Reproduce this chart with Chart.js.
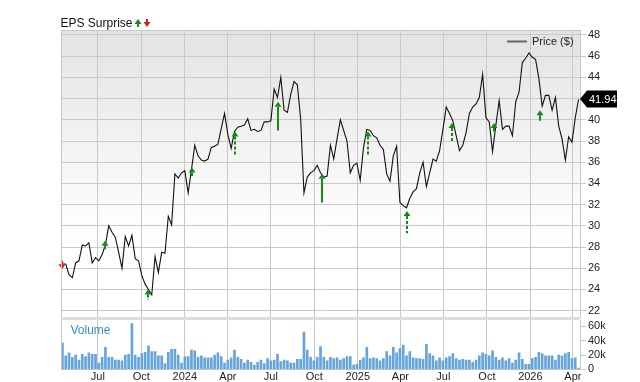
<!DOCTYPE html>
<html lang="en">
<head>
    <meta charset="UTF-8">
    <title>EPS Surprise</title>
    <script src="https://cdn.jsdelivr.net/npm/chart.js"></script>
    <style>
        body { margin: 0; background: #fff; }
        #wrap { position: relative; width: 640px; height: 382px; overflow: hidden; }
        #wrap canvas { position: absolute; left: 0; }
    </style>
</head>
<body>
    <div id="wrap">
        <canvas id="priceChart" width="640" height="320" style="top:0"></canvas>
        <canvas id="volumeChart" width="640" height="62" style="top:320px"></canvas>
    </div>

    <script>
        // weekly closes, first week starts 2023-04-17
        const startDate = '2023-04-17';
        const axisStart = '2023-04-14';
        const axisEnd = '2026-04-16';

        const prices = [
            26.4, 26.4, 25.4, 25.1, 26.5, 26.7, 28.2, 28.1, 28.4, 26.5,
            27.0, 26.7, 27.3, 28.2, 30.0, 29.4, 28.9, 27.5, 26.0, 29.0,
            28.1, 29.1, 26.9, 26.7, 25.3, 24.5, 24.0, 23.5, 27.1, 25.6,
            27.5, 27.4, 30.9, 30.1, 34.9, 34.5, 35.0, 35.2, 33.1, 35.3,
            37.6, 36.6, 36.2, 36.1, 36.3, 37.4, 37.5, 37.7, 39.2, 40.6,
            38.6, 37.3, 38.9, 39.3, 39.4, 39.5, 40.1, 39.0, 39.1, 38.9,
            39.0, 39.8, 39.8, 39.9, 42.9, 42.1, 44.0, 40.9, 40.7, 42.4,
            43.6, 43.3, 40.1, 33.1, 34.6, 35.0, 35.2, 35.7, 35.0, 34.6,
            34.7, 37.6, 36.3, 38.2, 40.0, 39.0, 38.0, 35.0, 35.7, 35.9,
            34.3, 37.4, 39.1, 39.0, 38.5, 38.3, 37.6, 37.2, 34.9, 34.2,
            36.6, 37.5, 32.2, 31.9, 31.7, 32.6, 33.2, 33.5, 35.0, 36.0,
            33.7, 35.0, 36.3, 36.1, 37.1, 39.1, 41.2, 40.6, 39.9, 38.5,
            37.1, 37.6, 38.8, 40.6, 41.2, 41.5, 42.1, 44.3, 40.2, 39.8,
            37.0, 39.5, 41.8, 39.1, 39.4, 39.4, 38.5, 41.7, 42.6, 45.4,
            45.8, 46.3, 45.9, 45.7, 43.9, 41.3, 42.3, 42.3, 40.9, 42.1,
            39.4, 38.2, 36.2, 38.4, 37.9, 40.2, 41.94
        ];

        // weekly volume, thousands
        const volumes = [
            37, 19, 23, 17, 20, 13, 21, 18, 23, 21,
            21, 9, 17, 31, 17, 17, 13, 13, 12, 20,
            21, 64, 20, 17, 22, 24, 33, 25, 25, 19,
            19, 8, 24, 28, 28, 20, 9, 18, 18, 27,
            26, 17, 19, 16, 16, 16, 20, 23, 18, 9,
            13, 16, 27, 17, 14, 9, 13, 10, 6, 10,
            13, 8, 15, 12, 13, 21, 11, 13, 12, 9,
            9, 14, 14, 52, 27, 17, 12,
            17, 32, 17, 12, 17, 15, 16, 13, 15, 18,
            18, 6, 7, 13, 16, 31, 15, 16, 15, 12,
            15, 25, 19, 31, 23, 29, 34, 19, 25, 16,
            15, 15, 14, 35, 22, 19, 12, 16, 12, 16,
            18, 22, 15, 13, 14, 13, 13, 10, 13, 19,
            23, 21, 19, 26, 17, 13, 16, 12, 15, 9,
            13, 23, 14, 7, 7, 15, 17, 24, 22, 19,
            19, 19, 13, 20, 19, 22, 24, 15, 16, 2
        ];

        const tickDates = ['2023-07-01', '2023-10-01', '2024-01-01', '2024-04-01', '2024-07-01', '2024-10-01',
                           '2025-01-01', '2025-04-01', '2025-07-01', '2025-10-01', '2026-01-01', '2026-04-01'];
        const tickLabels = ['Jul', 'Oct', '2024', 'Apr', 'Jul', 'Oct', '2025', 'Apr', 'Jul', 'Oct', '2026', 'Apr'];
        const priceTicks = [22, 24, 26, 28, 30, 32, 34, 36, 38, 40, 42, 44, 46, 48];
        const volumeTicks = [0, 20, 40, 60];

        // earnings surprise arrows
        const epsDates  = ['2023-04-17', '2023-07-17', '2023-10-16', '2024-01-16', '2024-04-16', '2024-07-16',
                           '2024-10-18', '2025-01-23', '2025-04-15', '2025-07-19', '2025-10-17', '2026-01-22'];
        const epsTip    = [25.9, 28.6, 24.0, 35.5, 38.9, 41.7, 34.9, 38.9, 31.4, 39.7, 39.7, 40.9];
        const epsTail   = [26.7, 27.8, 23.0, 34.7, 36.7, 39.0, 32.2, 36.6, 29.3, 37.9, 38.9, 39.9];
        const epsUp     = [false, true, true, true, true, true, true, true, true, true, true, true];
        const epsDashed = [false, false, true, false, true, false, false, true, true, true, false, false];

        const lastPrice = 41.94;

        const GREEN = '#158a15';
        const RED = '#e8141c';
        const GRID = '#c9c9c9';
        const FONT = '"Liberation Sans", Arial, sans-serif';

        Chart.defaults.font.family = FONT;
        Chart.defaults.font.size = 11;
        Chart.defaults.color = '#222';

        const t0 = Date.parse(startDate);
        const dayOf = s => (Date.parse(s) - t0) / 864e5;
        const xMin = dayOf(axisStart);
        const xMax = dayOf(axisEnd);
        const quarterTicks = tickDates.map(dayOf);

        const pricePoints = prices.map((p, i) => ({ x: i * 7, y: p }));
        const volumePoints = volumes.map((v, i) => ({ x: i * 7, y: v }));

        function drawArrow(ctx, x, tipY, tailY, up, dashed, color) {
            const dir = up ? 1 : -1;
            const headH = 5, headW = 3.5;
            ctx.save();
            ctx.fillStyle = color;
            ctx.strokeStyle = color;
            ctx.beginPath();
            ctx.moveTo(x, tipY);
            ctx.lineTo(x - headW, tipY + dir * headH);
            ctx.lineTo(x + headW, tipY + dir * headH);
            ctx.closePath();
            ctx.fill();
            ctx.lineWidth = 2;
            ctx.setLineDash(dashed ? [3, 2] : []);
            ctx.beginPath();
            ctx.moveTo(x, tipY + dir * headH);
            ctx.lineTo(x, tailY);
            ctx.stroke();
            ctx.restore();
        }

        const xScaleBase = {
            type: 'linear',
            min: xMin,
            max: xMax,
            afterBuildTicks: s => { s.ticks = quarterTicks.map(v => ({ value: v })); }
        };

        // price panel: background, borders, title, arrows, legend, last price tag
        const pricePanel = {
            id: 'pricePanel',
            beforeDraw(chart) {
                const { ctx, chartArea: a } = chart;
                const g = ctx.createLinearGradient(0, a.top, 0, a.bottom);
                g.addColorStop(0, '#e3e3e3');
                g.addColorStop(0.72, '#ffffff');
                ctx.save();
                ctx.fillStyle = g;
                ctx.fillRect(a.left, a.top, a.right - a.left, a.bottom - a.top);
                ctx.restore();
            },
            afterDatasetsDraw(chart) {
                const { ctx, scales: { x, y } } = chart;
                epsDates.forEach((d, i) => {
                    const px = Math.round(x.getPixelForValue(dayOf(d)));
                    drawArrow(ctx, px, y.getPixelForValue(epsTip[i]), y.getPixelForValue(epsTail[i]),
                              epsUp[i], epsDashed[i], epsUp[i] ? GREEN : RED);
                });
            },
            afterDraw(chart) {
                const { ctx, chartArea: a, scales: { y } } = chart;
                ctx.save();
                ctx.strokeStyle = GRID;
                ctx.lineWidth = 1;
                ctx.beginPath();
                ctx.moveTo(a.left + 0.5, a.bottom);
                ctx.lineTo(a.left + 0.5, a.top + 0.5);
                ctx.lineTo(a.right, a.top + 0.5);
                ctx.stroke();
                ctx.fillStyle = '#dedede';
                ctx.fillRect(a.left, a.bottom, a.right - a.left, 3);

                // title
                ctx.fillStyle = '#111';
                ctx.font = '12px ' + FONT;
                ctx.textBaseline = 'alphabetic';
                ctx.textAlign = 'left';
                ctx.fillText('EPS Surprise', 60.5, 27);
                drawArrow(ctx, 138, 19, 27, true, false, GREEN);
                drawArrow(ctx, 147, 27, 19, false, false, RED);

                // legend
                ctx.strokeStyle = '#666';
                ctx.lineWidth = 2;
                ctx.beginPath();
                ctx.moveTo(507, 41.5);
                ctx.lineTo(527, 41.5);
                ctx.stroke();
                ctx.fillStyle = '#222';
                ctx.font = '11px ' + FONT;
                ctx.textBaseline = 'middle';
                ctx.fillText('Price ($)', 532, 42);

                // last price tag
                const py = Math.round(y.getPixelForValue(lastPrice));
                ctx.fillStyle = '#000';
                ctx.beginPath();
                ctx.moveTo(580, py);
                ctx.lineTo(587, py - 8.5);
                ctx.lineTo(617, py - 8.5);
                ctx.lineTo(617, py + 8.5);
                ctx.lineTo(587, py + 8.5);
                ctx.closePath();
                ctx.fill();
                ctx.fillStyle = '#fff';
                ctx.fillText(lastPrice.toFixed(2), 589, py + 0.5);
                ctx.restore();
            }
        };

        const volumePanel = {
            id: 'volumePanel',
            afterDraw(chart) {
                const { ctx, chartArea: a } = chart;
                ctx.save();
                ctx.strokeStyle = GRID;
                ctx.lineWidth = 1;
                ctx.beginPath();
                ctx.moveTo(a.left + 0.5, a.top);
                ctx.lineTo(a.left + 0.5, a.bottom);
                ctx.stroke();
                ctx.fillStyle = '#3a8bd3';
                ctx.font = '12px ' + FONT;
                ctx.textBaseline = 'alphabetic';
                ctx.fillText('Volume', 70.5, 14);
                ctx.restore();
            }
        };

        new Chart(document.getElementById('priceChart'), {
            type: 'line',
            data: {
                datasets: [{
                    label: 'Price ($)',
                    data: pricePoints,
                    borderColor: '#111',
                    borderWidth: 1.1,
                    pointRadius: 0,
                    tension: 0
                }]
            },
            options: {
                responsive: false,
                animation: false,
                layout: { padding: { left: 61, top: 30, right: 0, bottom: 3 } },
                plugins: { legend: { display: false }, tooltip: { enabled: false } },
                scales: {
                    x: {
                        ...xScaleBase,
                        grid: { color: GRID, drawTicks: false },
                        border: { display: false },
                        ticks: { display: false },
                        afterFit: s => { s.height = 0; s.paddingLeft = 0; s.paddingRight = 0; }
                    },
                    y: {
                        position: 'right',
                        min: 21.4,
                        max: 48.47,
                        afterBuildTicks: s => { s.ticks = priceTicks.map(v => ({ value: v })); },
                        grid: { color: GRID, tickLength: 6, tickColor: GRID },
                        border: { color: GRID },
                        ticks: { padding: 2, autoSkip: false, callback: v => v },
                        afterFit: s => { s.width = 60; s.paddingTop = 0; s.paddingBottom = 0; }
                    }
                }
            },
            plugins: [pricePanel]
        });

        new Chart(document.getElementById('volumeChart'), {
            type: 'bar',
            data: {
                datasets: [{
                    label: 'Volume',
                    data: volumePoints,
                    backgroundColor: '#66a4dc',
                    barThickness: 2
                }]
            },
            options: {
                responsive: false,
                animation: false,
                layout: { padding: { left: 61, top: 0, right: 0, bottom: 0 } },
                plugins: { legend: { display: false }, tooltip: { enabled: false } },
                scales: {
                    x: {
                        ...xScaleBase,
                        offset: false,
                        grid: { color: GRID, drawTicks: false, offset: false },
                        border: { color: GRID },
                        ticks: { padding: 1, maxRotation: 0, autoSkip: false, callback: (v, i) => tickLabels[i] },
                        afterFit: s => { s.height = 12.6; s.paddingLeft = 0; s.paddingRight = 0; }
                    },
                    y: {
                        position: 'right',
                        min: 0,
                        max: 69,
                        afterBuildTicks: s => { s.ticks = volumeTicks.map(v => ({ value: v })); },
                        grid: { drawOnChartArea: false, tickLength: 6, tickColor: GRID },
                        border: { color: GRID },
                        ticks: { padding: 2, autoSkip: false, callback: v => v === 0 ? '0' : v + 'k' },
                        afterFit: s => { s.width = 60; s.paddingTop = 0; s.paddingBottom = 0; }
                    }
                }
            },
            plugins: [volumePanel]
        });
    </script>
</body>
</html>
